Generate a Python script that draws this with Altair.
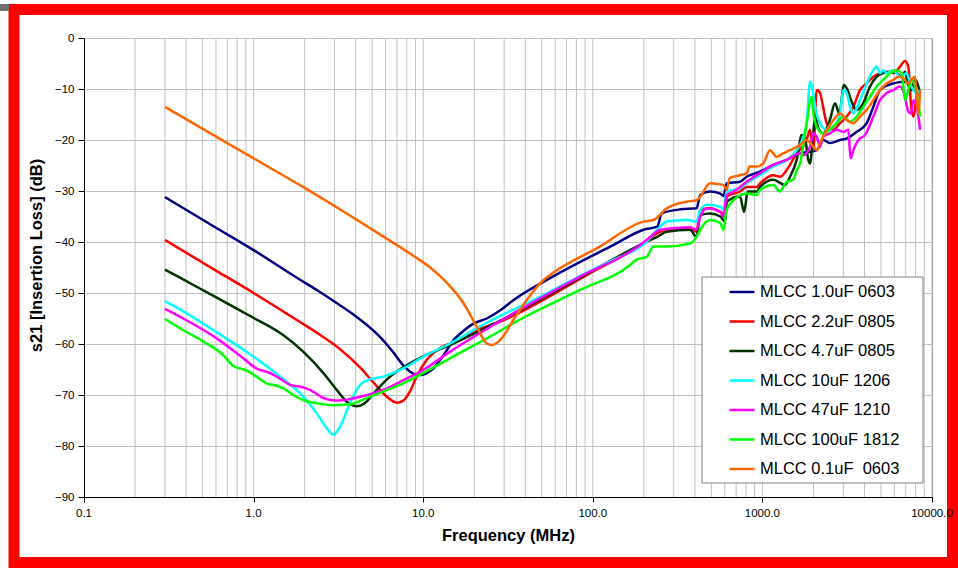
import altair as alt
import pandas as pd

# ---- measured S21 sweeps: frequency (MHz) and insertion loss (dB) ----
f_1u0_0603 = [0.3, 0.6, 1.0, 1.88, 2.46, 3.23, 4.24, 5.56, 6.66, 7.63, 8.74, 9.57, 10.5, 11.5,
              12.6, 13.8, 15.1, 16.5, 19.8, 23.7, 28.5, 34.0, 58.0, 132, 199, 240, 255, 330,
              409, 430, 491, 565, 589, 616, 738, 808, 968, 1159, 1390, 1666, 1908, 2090, 2280,
              2500, 2870, 3140, 3600, 4120, 4510, 4935, 5915, 6930, 7770, 8510]
s21_1u0_0603 = [-31.2, -37.2, -41.6, -47.4, -49.8, -52.4, -55.2, -58.6, -61.6, -64.2, -65.8, -66.1,
                -65.7, -64.8, -63.1, -61.2, -59.2, -58.0, -56.0, -55.0, -53.4, -51.4, -46.8, -40.6,
                -37.6, -37.0, -34.4, -33.6, -33.4, -30.8, -30.1, -30.5, -31.0, -28.5, -28.2, -27.2,
                -26.2, -24.9, -23.9, -22.6, -22.3, -22.0, -20.0, -20.6, -20.0, -19.7, -18.4, -16.7,
                -13.5, -10.2, -8.9, -8.6, -10.2, -10.8]

f_2u2_0805 = [0.3, 0.6, 1.0, 1.88, 2.46, 3.23, 4.24, 5.08, 6.09, 6.97, 7.63, 8.36, 9.15, 10.5,
              12.6, 16.5, 20.9, 28.5, 100, 200, 240, 273, 374, 409, 430, 491, 565, 603, 616, 738,
              808, 925, 968, 1159, 1270, 1390, 1592, 1824, 1908, 1997, 2090, 2188, 2280, 2395,
              2620, 2870, 3140, 3437, 3760, 4120, 4510, 4935, 5400, 5915, 6480, 6930, 7250, 7540,
              7770, 8130, 8510]
s21_2u2_0805 = [-39.6, -45.6, -50.0, -55.7, -58.2, -61.0, -64.6, -67.5, -70.3, -71.5, -71.1, -69.3,
                -66.4, -63.1, -60.8, -59.2, -57.3, -55.6, -45.8, -40.2, -38.3, -37.6, -37.3, -38.0,
                -33.7, -33.4, -34.1, -34.7, -31.1, -30.1, -29.2, -29.2, -28.5, -26.9, -27.2, -25.9,
                -22.6, -20.0, -18.0, -22.0, -10.2, -10.8, -13.5, -16.7, -18.0, -16.7, -15.4, -13.5,
                -10.2, -8.9, -7.6, -6.9, -6.6, -6.9, -5.6, -4.5, -5.6, -13.5, -15.4, -11.5, -10.2]

f_4u7_0805 = [0.3, 0.368, 0.606, 0.952, 1.50, 1.96, 2.58, 3.09, 3.54, 4.05, 4.44, 5.32, 6.37, 8.36,
              11.0, 14.4, 28.5, 100, 200, 240, 273, 374, 409, 430, 491, 565, 603, 616, 738, 780,
              820, 925, 968, 1159, 1360, 1455, 1592, 1706, 1780, 1865, 1908, 1980, 2045, 2140,
              2280, 2500, 2680, 2840, 3030, 3180, 3360, 3600, 3930, 4310, 4720, 5160, 5650, 6190,
              6630, 6930, 7250, 7540, 7940, 8510]
s21_4u7_0805 = [-45.4, -47.0, -50.9, -54.5, -58.3, -61.5, -65.7, -69.0, -71.3, -72.2, -71.8, -69.0,
                -66.4, -63.8, -61.8, -60.2, -55.4, -45.6, -40.2, -39.0, -38.0, -37.6, -39.0, -34.7,
                -34.4, -35.0, -36.0, -32.1, -31.1, -34.1, -30.1, -30.1, -29.2, -27.8, -28.8, -27.2,
                -23.9, -19.0, -19.4, -23.9, -24.6, -20.0, -15.4, -17.7, -18.7, -16.1, -12.8, -14.8,
                -9.2, -10.2, -12.5, -14.1, -12.8, -9.5, -7.6, -6.9, -6.6, -6.9, -7.6, -6.6, -9.2,
                -10.2, -8.2, -10.8]

f_10u_1206 = [0.3, 0.385, 0.606, 0.952, 1.19, 1.50, 1.96, 2.36, 2.70, 2.95, 3.23, 3.70, 4.24, 4.86,
              5.82, 7.63, 10.0, 14.4, 21.5, 53.3, 100, 132, 208, 240, 273, 357, 409, 430, 472, 565,
              589, 616, 738, 808, 968, 1159, 1390, 1592, 1743, 1824, 1908, 1980, 2045, 2188, 2395,
              2620, 2870, 3000, 3140, 3290, 3437, 3760, 4120, 4510, 4720, 4935, 5160, 5400, 5915,
              6480, 7090, 7420, 7770, 8130, 8510]
s21_10u_1206 = [-51.6, -53.6, -57.7, -62.0, -64.3, -66.9, -70.3, -73.6, -76.5, -77.8, -76.2, -71.6,
                -68.0, -66.9, -66.4, -64.8, -62.5, -59.9, -56.6, -50.1, -45.4, -43.5, -39.9, -37.6,
                -36.0, -35.7, -36.0, -33.7, -32.7, -33.1, -33.7, -30.1, -29.5, -28.5, -26.9, -25.2,
                -23.9, -22.0, -19.4, -16.7, -8.6, -10.2, -13.5, -16.7, -18.0, -17.4, -14.8, -10.2,
                -10.8, -13.5, -14.8, -12.2, -8.9, -6.3, -5.6, -6.9, -6.3, -6.9, -6.3, -7.6, -6.9,
                -8.9, -10.2, -10.8, -10.2]

f_47u_1210 = [0.3, 0.385, 0.606, 0.869, 1.04, 1.25, 1.37, 1.64, 1.96, 2.15, 2.58, 3.09, 3.70, 4.44,
              5.82, 7.63, 10.0, 14.4, 34.0, 84.1, 190, 218, 250, 374, 409, 430, 472, 565, 589, 616,
              676, 808, 968, 1159, 1390, 1666, 1743, 1908, 1997, 2090, 2188, 2280, 2500, 2740, 3000,
              3210, 3310, 3437, 3680, 4030, 4510, 4935, 5400, 5915, 6480, 6930, 7250, 7540, 7770,
              8130, 8510]
s21_47u_1210 = [-53.1, -55.0, -58.9, -62.8, -64.8, -65.7, -66.4, -68.0, -68.5, -69.0, -70.6, -71.1,
                -70.8, -70.2, -69.0, -67.1, -65.1, -61.5, -54.0, -46.8, -40.6, -39.0, -37.6, -37.1,
                -37.6, -35.0, -33.4, -34.1, -35.0, -30.8, -30.1, -28.2, -26.5, -24.9, -23.9, -22.6,
                -23.0, -21.3, -18.7, -19.4, -21.3, -19.4, -18.7, -18.0, -18.4, -18.0, -23.6, -22.0,
                -20.0, -19.0, -15.4, -12.2, -10.8, -10.2, -9.5, -11.5, -14.4, -14.8, -12.2, -13.5,
                -18.0]

f_100u_1812 = [0.3, 0.385, 0.505, 0.663, 0.759, 0.831, 0.910, 1.04, 1.19, 1.37, 1.50, 1.71, 1.96,
               2.36, 2.95, 3.70, 4.64, 5.82, 7.63, 10.0, 14.4, 28.5, 34.0, 84.1, 166, 180, 208, 228,
               273, 374, 409, 430, 491, 565, 589, 616, 676, 808, 925, 968, 1159, 1270, 1390, 1520,
               1592, 1666, 1824, 1950, 1997, 2090, 2280, 2500, 2740, 3000, 3290, 3600, 3930, 4310,
               4720, 5160, 5650, 6190, 6630, 6930, 7250, 7540, 8130, 8510]
s21_100u_1812 = [-55.1, -57.3, -59.5, -62.2, -64.3, -64.8, -65.2, -66.4, -67.7, -68.2, -68.7, -70.0,
                 -71.0, -71.6, -72.0, -71.8, -70.6, -69.3, -67.7, -65.7, -62.8, -57.4, -55.9, -49.4,
                 -44.5, -43.5, -42.9, -40.9, -40.9, -40.3, -39.0, -37.6, -35.7, -36.3, -37.6, -33.7,
                 -31.8, -30.5, -30.8, -29.8, -28.8, -30.1, -28.2, -27.8, -26.0, -24.6, -16.7, -11.5,
                 -14.8, -17.4, -18.7, -18.0, -16.7, -15.4, -16.4, -15.4, -13.5, -11.5, -9.5, -8.2,
                 -6.9, -6.3, -6.9, -12.2, -10.2, -8.2, -10.8, -15.4]

f_0u1_0603 = [0.3, 1.0, 2.0, 3.7, 5.56, 8.74, 11.0, 13.8, 17.3, 20.7, 23.7, 25.4, 28.5, 34.0,
              40.7, 51.1, 58.0, 110, 199, 228, 273, 357, 409, 430, 491, 589, 616, 640, 738, 808,
              840, 925, 1012, 1109, 1214, 1329, 1455, 1666, 1824, 1997, 2090, 2188, 2395, 2620,
              2870, 3140, 3437, 3760, 4120, 4510, 4935, 5400, 5915, 6330, 6770, 7250, 7540, 7940,
              8130, 8310, 8510]
s21_0u1_0603 = [-13.5, -23.6, -29.4, -34.8, -38.5, -42.7, -45.0, -48.0, -52.0, -56.6, -59.9,
                -60.2, -59.2, -55.3, -51.4, -47.5, -46.1, -40.9, -36.0, -35.7, -33.4, -32.1, -31.8,
                -31.1, -28.5, -28.8, -29.8, -27.5, -26.9, -26.5, -25.2, -25.2, -24.6, -22.0, -23.3,
                -22.6, -22.0, -21.0, -20.0, -21.3, -22.0, -20.6, -18.0, -16.1, -14.8, -16.1, -16.7,
                -15.4, -14.1, -12.2, -10.2, -8.9, -8.2, -7.6, -7.9, -8.9, -8.2, -7.6, -12.2, -14.8,
                -10.2]

labels = ["MLCC 1.0uF 0603", "MLCC 2.2uF 0805", "MLCC 4.7uF 0805", "MLCC 10uF 1206",
          "MLCC 47uF 1210", "MLCC 100uF 1812", "MLCC 0.1uF\u00a0 0603"]
colors = ["#000080", "#ff0000", "#003300", "#00ffff", "#ff00ff", "#00ff00", "#ff6600"]
sweeps = [(f_1u0_0603, s21_1u0_0603), (f_2u2_0805, s21_2u2_0805), (f_4u7_0805, s21_4u7_0805),
          (f_10u_1206, s21_10u_1206), (f_47u_1210, s21_47u_1210), (f_100u_1812, s21_100u_1812),
          (f_0u1_0603, s21_0u1_0603)]

# axis ticks and log-decade gridlines
x_ticks = [0.1, 1, 10, 100, 1000, 10000]
x_tick_labels = ["0.1", "1.0", "10.0", "100.0", "1000.0", "10000.0"]
y_ticks = list(range(-90, 1, 10))
x_grid = [d * k for d in [0.1, 1, 10, 100, 1000] for k in range(2, 11)]

rows = []
for name, (fs, vs) in zip(labels, sweeps):
    for f, v in zip(fs, vs):
        rows.append({"series": name, "freq": f, "db": v})
df = pd.DataFrame(rows)

FONT = "Liberation Sans"
W, H = 848, 459

x_scale = alt.Scale(type="log", domain=[0.1, 10000])
y_scale = alt.Scale(domain=[-90, 0], nice=False)

# x tick labels are drawn as a text layer so they sit above the frame
x_axis = alt.Axis(values=x_ticks, labels=False, grid=False, tickSize=5, tickColor="black",
                  domainColor="black",
                  title="Frequency (MHz)", titleFont=FONT, titleFontSize=16.5,
                  titleFontWeight="bold", titleColor="black", titleY=38, titleBaseline="middle",
                  zindex=1)
y_axis = alt.Axis(values=y_ticks, format="d", grid=True, gridColor="#c0c0c0", tickSize=6,
                  tickColor="black", domainColor="black", labelFont=FONT, labelFontSize=11.5,
                  labelColor="black", labelPadding=4, labelOverlap=False,
                  title="s21 [Insertion Loss] (dB)", titleFont=FONT, titleFontSize=16.5,
                  titleFontWeight="bold", titleColor="black", titleX=-48, titleY=217,
                  titleBaseline="middle", zindex=0)

x_enc = alt.X("freq:Q", scale=x_scale, axis=x_axis)

grid_rules = alt.Chart(pd.DataFrame({"freq": x_grid})).mark_rule(
    color="#c0c0c0", strokeWidth=1).encode(x=x_enc)

lines = alt.Chart(df).mark_line(strokeWidth=2.5, interpolate="monotone").encode(
    x=x_enc,
    y=alt.Y("db:Q", scale=y_scale, axis=y_axis),
    color=alt.Color("series:N", sort=labels,
                    scale=alt.Scale(domain=labels, range=colors),
                    legend=alt.Legend(orient="none", legendX=644, legendY=240, title=None,
                                      symbolType="stroke", symbolSize=625,
                                      symbolStrokeWidth=2.5, labelFont=FONT,
                                      labelFontSize=16.5, labelColor="black", labelOffset=4,
                                      rowPadding=6.5, padding=0, labelLimit=300)),
)

one = pd.DataFrame({"k": [0]})

# legend panel
legend_box = alt.Chart(one).mark_rect(fill="white", stroke="#808080", strokeWidth=1).encode(
    x=alt.value(618), x2=alt.value(839), y=alt.value(239), y2=alt.value(445))

# red outer frame
frame = alt.Chart(one).mark_rect(fillOpacity=0, stroke="#ff0000", strokeWidth=11).encode(
    x=alt.value(-70), x2=alt.value(868.5), y=alt.value(-28.5), y2=alt.value(524.5))

corner = alt.Chart(one).mark_rect(fill="#707070").encode(
    x=alt.value(-84), x2=alt.value(-75), y=alt.value(-34), y2=alt.value(-27))

x_labels = alt.Chart(pd.DataFrame({"freq": x_ticks, "lab": x_tick_labels})).mark_text(
    font=FONT, fontSize=11.5, color="black", baseline="top", align="center").encode(
    x=x_enc, y=alt.value(H + 11), text="lab:N")

chart = alt.layer(grid_rules, lines, legend_box, frame, corner, x_labels).properties(
    width=W, height=H,
    padding={"left": 84, "top": 38, "right": 26, "bottom": 71},
    autosize=alt.AutoSizeParams(type="none"),
    background="white",
).configure_view(stroke="#808080", strokeWidth=1)

chart.save("out.html", embed_options={"renderer": "svg", "actions": False})
